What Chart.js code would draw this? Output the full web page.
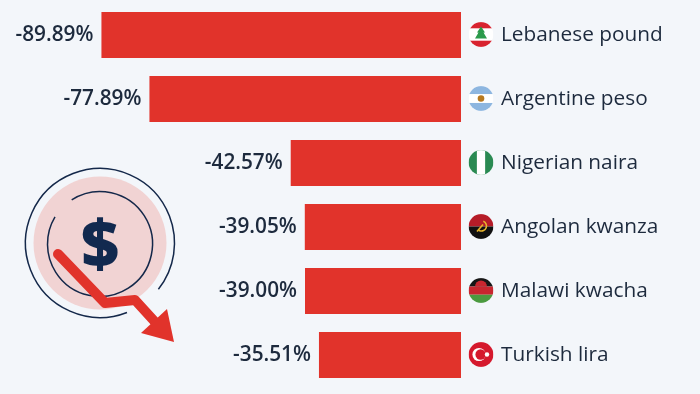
<!DOCTYPE html>
<html>
<head>
<meta charset="utf-8">
<script src="https://cdn.jsdelivr.net/npm/chart.js@4"></script>
<style>
  html, body { margin: 0; padding: 0; background: #f3f6fa; }
  #wrap { width: 700px; height: 394px; }
</style>
</head>
<body>
<div id="wrap"><canvas id="currencyChart" width="700" height="394"></canvas></div>
<script>
const categories = ['Lebanese pound', 'Argentine peso', 'Nigerian naira', 'Angolan kwanza', 'Malawi kwacha', 'Turkish lira'];
const changes = [-89.89, -77.89, -42.57, -39.05, -39.00, -35.51];
const flags = ['lb', 'ar', 'ng', 'ao', 'mw', 'tr'];

const TEXT = '#1d2a3d';
const RED = '#e1332b';

function drawFlag(ctx, code, x, y, r) {
  ctx.save();
  ctx.beginPath();
  ctx.arc(x, y, r, 0, Math.PI * 2);
  ctx.clip();
  const L = x - r, T = y - r, D = r * 2;
  const band = (color, from, to) => { ctx.fillStyle = color; ctx.fillRect(L, T + D * from, D, D * (to - from)); };
  if (code === 'lb') {
    band('#fff', 0, 1); band('#d8232f', 0, 0.25); band('#d8232f', 0.75, 1);
    ctx.fillStyle = '#2b9a4b';
    ctx.beginPath();
    ctx.moveTo(x, y - 8); ctx.lineTo(x + 4, y - 2); ctx.lineTo(x + 2.5, y - 2); ctx.lineTo(x + 6, y + 4);
    ctx.lineTo(x - 6, y + 4); ctx.lineTo(x - 2.5, y - 2); ctx.lineTo(x - 4, y - 2);
    ctx.closePath(); ctx.fill();
  } else if (code === 'ar') {
    band('#fff', 0, 1); band('#8db6e0', 0, 0.32); band('#8db6e0', 0.68, 1);
    ctx.fillStyle = '#b7791f';
    ctx.beginPath(); ctx.arc(x, y, 3.3, 0, Math.PI * 2); ctx.fill();
  } else if (code === 'ng') {
    ctx.fillStyle = '#2a8a52'; ctx.fillRect(L, T, D, D);
    ctx.fillStyle = '#fff'; ctx.fillRect(x - r / 3, T, D / 3, D);
  } else if (code === 'ao') {
    band('#b51c28', 0, 0.5); band('#111', 0.5, 1);
    ctx.strokeStyle = '#e8b52c'; ctx.lineWidth = 1.6;
    ctx.beginPath(); ctx.arc(x + 0.5, y - 0.5, 5, -1.2, 2.2); ctx.stroke();
    ctx.beginPath(); ctx.moveTo(x - 4, y + 5); ctx.lineTo(x + 2, y - 2); ctx.stroke();
  } else if (code === 'mw') {
    band('#161616', 0, 0.34); band('#c8262f', 0.34, 0.67); band('#4b9a3f', 0.67, 1);
    ctx.fillStyle = '#c8262f';
    ctx.beginPath(); ctx.arc(x, y - r * 0.32, 6, Math.PI, 0); ctx.fill();
  } else if (code === 'tr') {
    ctx.fillStyle = '#d5192d'; ctx.fillRect(L, T, D, D);
    ctx.fillStyle = '#fff';
    ctx.beginPath(); ctx.arc(x - 2, y, 6.6, 0, Math.PI * 2); ctx.fill();
    ctx.fillStyle = '#d5192d';
    ctx.beginPath(); ctx.arc(x - 0.4, y, 5.2, 0, Math.PI * 2); ctx.fill();
    ctx.fillStyle = '#fff';
    ctx.beginPath(); ctx.arc(x + 6, y, 2.2, 0, Math.PI * 2); ctx.fill();
  }
  ctx.restore();
}

// dollar icon in the lower left corner
function drawIcon(ctx) {
  ctx.save();
  ctx.fillStyle = '#f1d3d3';
  ctx.beginPath(); ctx.arc(100, 243, 66.5, 0, Math.PI * 2); ctx.fill();

  ctx.strokeStyle = '#14284a';
  ctx.lineWidth = 1.5;
  ctx.beginPath(); ctx.arc(100, 243, 74.5, 1.2, 0.67); ctx.stroke();
  ctx.beginPath(); ctx.arc(100, 244, 52.5, -2.14, -2.6); ctx.stroke();

  ctx.fillStyle = '#12294f';
  ctx.font = '800 66px "Open Sans"';
  ctx.textAlign = 'center';
  ctx.textBaseline = 'middle';
  ctx.fillText('$', 100, 248);

  ctx.strokeStyle = RED;
  ctx.lineWidth = 10;
  ctx.lineCap = 'round';
  ctx.lineJoin = 'round';
  ctx.beginPath();
  ctx.moveTo(58, 254); ctx.lineTo(105, 303); ctx.lineTo(135, 300); ctx.lineTo(156, 323);
  ctx.stroke();
  ctx.fillStyle = RED;
  ctx.beginPath();
  ctx.moveTo(167, 309); ctx.lineTo(174, 342); ctx.lineTo(141, 333);
  ctx.closePath(); ctx.fill();
  ctx.restore();
}

const labelsPlugin = {
  id: 'labelsPlugin',
  afterDatasetsDraw(chart) {
    const { ctx, scales } = chart;
    ctx.save();
    ctx.textBaseline = 'middle';
    categories.forEach((name, i) => {
      const y = scales.y.getPixelForValue(i);
      const left = scales.x.getPixelForValue(changes[i]);
      const right = scales.x.getPixelForValue(0);

      ctx.fillStyle = TEXT;
      ctx.font = '600 20.8px "Open Sans"';
      ctx.textAlign = 'right';
      ctx.fillText(changes[i].toFixed(2) + '%', left - 8, y);

      drawFlag(ctx, flags[i], right + 20, y - 0.5, 12.4);

      ctx.fillStyle = TEXT;
      ctx.font = '400 20.8px "Open Sans"';
      ctx.textAlign = 'left';
      ctx.fillText(name, right + 40, y);
    });
    ctx.restore();
    drawIcon(ctx);
  }
};

new Chart(document.getElementById('currencyChart').getContext('2d'), {
  type: 'bar',
  data: {
    labels: categories,
    datasets: [{
      data: changes,
      backgroundColor: RED,
      categoryPercentage: 1,
      barPercentage: 46 / 64,
    }],
  },
  options: {
    indexAxis: 'y',
    responsive: false,
    animation: false,
    layout: { padding: { top: 3, bottom: 7 } },
    plugins: { legend: { display: false }, tooltip: { enabled: false } },
    scales: {
      x: { display: false, min: -115.25, max: 59.75 },
      y: { display: false },
    },
  },
  plugins: [labelsPlugin],
});
</script>
</body>
</html>
